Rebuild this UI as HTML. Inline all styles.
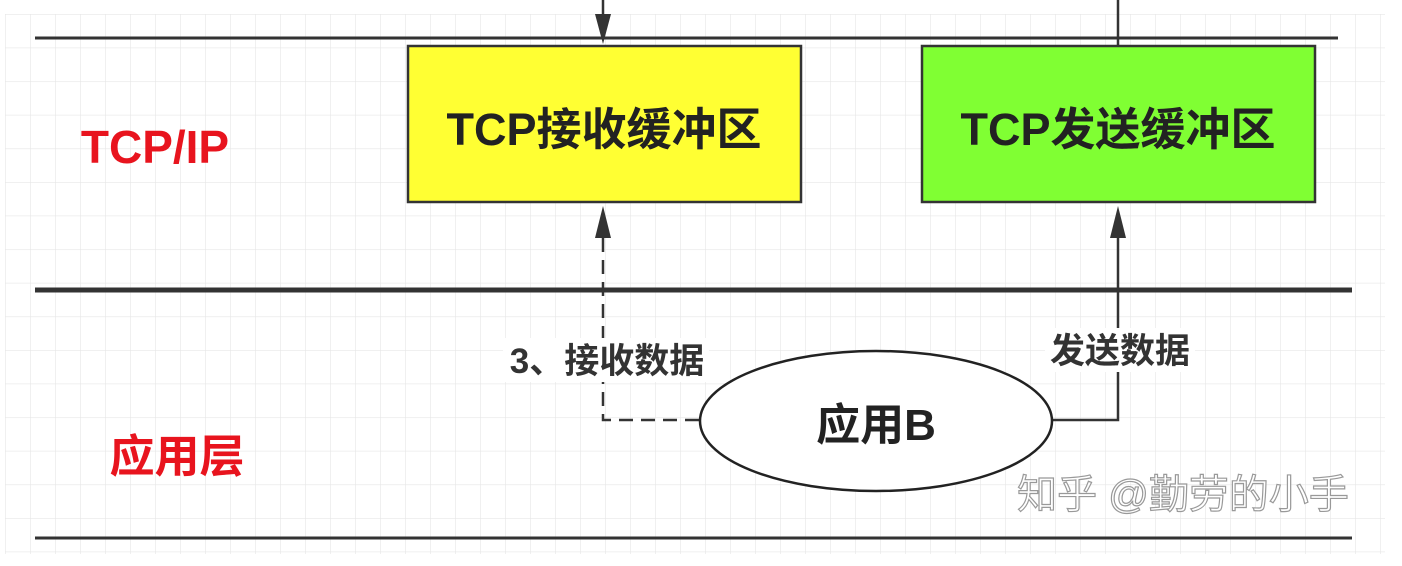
<!DOCTYPE html>
<html><head><meta charset="utf-8"><style>
body{margin:0;width:1402px;height:566px;background:#fff;overflow:hidden}
svg{display:block}
text{font-family:"Liberation Sans","Noto Sans CJK SC",sans-serif;font-weight:bold}
</style></head><body>
<svg width="1402" height="566" viewBox="0 0 1402 566">
<defs>
<pattern id="g" x="5" y="14" width="25" height="33.6" patternUnits="userSpaceOnUse">
<path d="M0 0H25M0 0V33.6" stroke="#e6e6e6" stroke-width="1.2" fill="none"/>
</pattern>
</defs>
<rect x="5" y="14" width="1380" height="540" fill="url(#g)"/>
<line x1="35" y1="38" x2="1338" y2="38" stroke="#333" stroke-width="3"/>
<line x1="35" y1="290" x2="1352" y2="290" stroke="#333" stroke-width="5"/>
<line x1="35" y1="538" x2="1352" y2="538" stroke="#333" stroke-width="3"/>
<line x1="603" y1="0" x2="603" y2="30" stroke="#333" stroke-width="2.5"/>
<polygon points="595,14 611,14 603,44" fill="#333"/>
<line x1="1118" y1="0" x2="1118" y2="46" stroke="#333" stroke-width="2.5"/>
<rect x="408" y="46" width="393" height="156" fill="#ffff33" stroke="#333" stroke-width="2.5"/>
<rect x="922" y="46" width="393" height="156" fill="#80ff33" stroke="#333" stroke-width="2.5"/>
<text x="604" y="145" font-size="45" text-anchor="middle" fill="#222">TCP接收缓冲区</text>
<text x="1118" y="145" font-size="45" text-anchor="middle" fill="#222">TCP发送缓冲区</text>
<text x="155" y="163" font-size="46" text-anchor="middle" fill="#e8141e">TCP/IP</text>
<text x="177" y="472" font-size="45" text-anchor="middle" fill="#e8141e">应用层</text>
<polyline points="603,238 603,420 700,420" fill="none" stroke="#333" stroke-width="2.5" stroke-dasharray="14,8"/>
<polygon points="595,238 611,238 603,206" fill="#333"/>
<polyline points="1050,420 1118,420 1118,238" fill="none" stroke="#333" stroke-width="2.5"/>
<polygon points="1110,238 1126,238 1118,206" fill="#333"/>
<rect x="503" y="338" width="206" height="44" fill="#fff"/>
<text x="607" y="373" font-size="35" text-anchor="middle" fill="#333">3、接收数据</text>
<rect x="1045" y="328" width="150" height="44" fill="#fff"/>
<text x="1120" y="363" font-size="35" text-anchor="middle" fill="#333">发送数据</text>
<ellipse cx="876" cy="421" rx="176" ry="70" fill="#fff" stroke="#222" stroke-width="2.5"/>
<text x="876" y="440" font-size="44" text-anchor="middle" fill="#222">应用B</text>
<text x="1183" y="508" font-size="40" text-anchor="middle" fill="#fff" stroke="#999" stroke-width="1.2" style="font-weight:normal">知乎 @勤劳的小手</text>
</svg>
</body></html>
